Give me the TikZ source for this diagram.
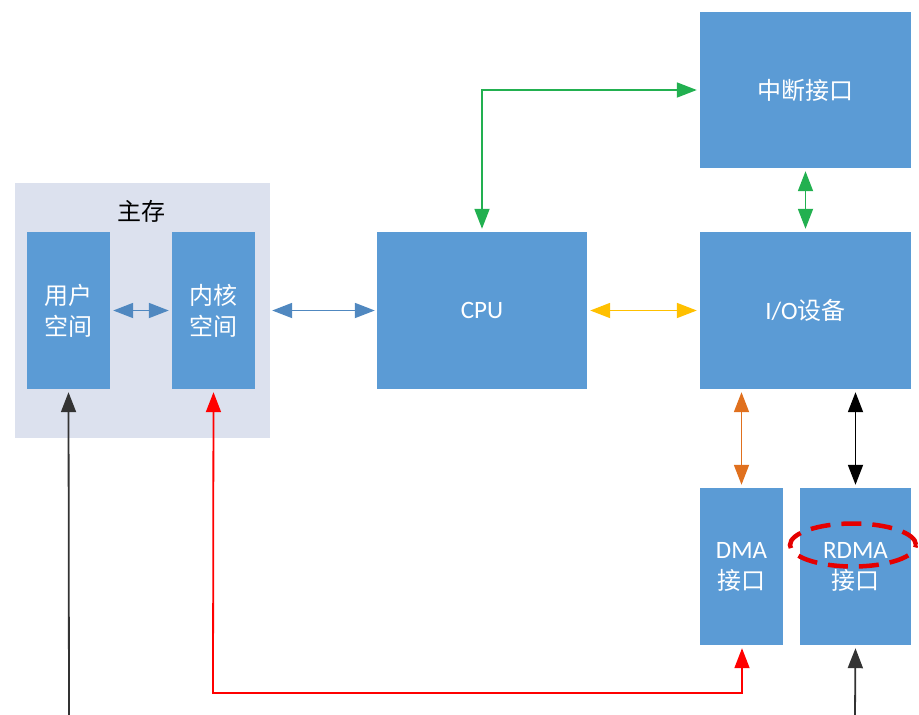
\documentclass[tikz,border=0pt]{standalone}
\usepackage{fontspec}
\setmainfont{Carlito}
\newfontfamily\cjk{Noto Sans CJK SC}
\usetikzlibrary{arrows.meta}
\definecolor{boxblue}{HTML}{5B9BD5}
\definecolor{membg}{HTML}{DCE1EE}
\definecolor{linkblue}{HTML}{5088C0}
\definecolor{gold}{HTML}{FFC000}
\definecolor{grn}{HTML}{22B050}
\definecolor{orng}{HTML}{E0701E}
\tikzset{
  blk/.style={fill=boxblue, draw=none, inner sep=0pt, text=white, font=\fontsize{24}{31}\selectfont\cjk, align=center},
  tri/.style={-{Triangle[length=20pt,width=15pt]}},
  dtri/.style={{Triangle[length=20pt,width=15pt]}-{Triangle[length=20pt,width=15pt]}},
  lnk/.style={line width=1.8pt},
}
\begin{document}
\begin{tikzpicture}[x=1pt,y=-1pt]
\useasboundingbox (0,0) rectangle (919,715);
% main memory
\node[fill=membg, minimum width=255pt, minimum height=255pt, inner sep=0pt] (mem) at (142.5,310.5) {};
\node[font=\fontsize{24}{28}\selectfont\cjk] (memlbl) at (141,211) {主存};
\node[blk, minimum width=83pt, minimum height=157pt] (user) at (68.5,310.5) {用户\\空间};
\node[blk, minimum width=83pt, minimum height=157pt] (kern) at (213.5,310.5) {内核\\空间};
\node[blk, minimum width=210pt, minimum height=157pt, font=\fontsize{25}{31}\selectfont] (cpu) at (482,310.5) {CPU};
\node[blk, minimum width=211pt, minimum height=157pt] (io) at (805.5,310.5) {{\fontspec{Carlito}\fontsize{25}{31}\selectfont I/O}设备};
\node[blk, minimum width=211pt, minimum height=156pt] (irq) at (805.5,90) {中断接口};
\node[blk, minimum width=83pt, minimum height=157pt] (dma) at (741.5,566.5) {{\fontspec{Carlito}\fontsize{25}{31}\selectfont DMA}\\接口};
\node[blk, minimum width=111pt, minimum height=157pt] (rdma) at (855.5,566.5) {{\fontspec{Carlito}\fontsize{25}{31}\selectfont RDMA}\\接口};
% red dashed ellipse
\draw[red!90!black, line width=4.5pt, dash pattern=on 20pt off 11pt] (853,545) ellipse [x radius=63pt, y radius=21.5pt];
% coordinates
\coordinate (gc) at (482,90);
\coordinate (rb1) at (213,693);
\coordinate (rb2) at (742,693);
\coordinate (ub) at (69,715);
\coordinate (rdb) at (855,715);
% connectors
\draw[dtri, lnk, linkblue, shorten <=3pt, shorten >=3pt] (user.east) -- (kern.west);
\draw[dtri, lnk, linkblue, shorten <=17pt, shorten >=2pt] (kern.east) -- (cpu.west);
\draw[dtri, lnk, gold, shorten <=3pt, shorten >=3pt] (cpu.east) -- (io.west);
\draw[dtri, lnk, grn, shorten <=3pt, shorten >=3pt] (cpu.north) -- (gc) -- (irq.west);
\draw[dtri, lnk, grn, shorten <=3pt, shorten >=3pt] (irq.south) -- (io.north);
\draw[dtri, lnk, orng, shorten <=3pt, shorten >=3pt] (io.south -| dma.north) -- (dma.north);
\draw[dtri, lnk, black, shorten <=3pt, shorten >=3pt] (io.south -| rdma.north) -- (rdma.north);
\draw[dtri, lnk, red, shorten <=3pt, shorten >=3pt] (kern.south) -- (rb1) -- (rb2) -- (rb2 |- dma.south);
\draw[tri, lnk, black!80, shorten >=3pt] (ub) -- (user.south);
\draw[tri, lnk, black!80, shorten >=3pt] (rdb) -- (rdma.south);
\end{tikzpicture}
\end{document}
